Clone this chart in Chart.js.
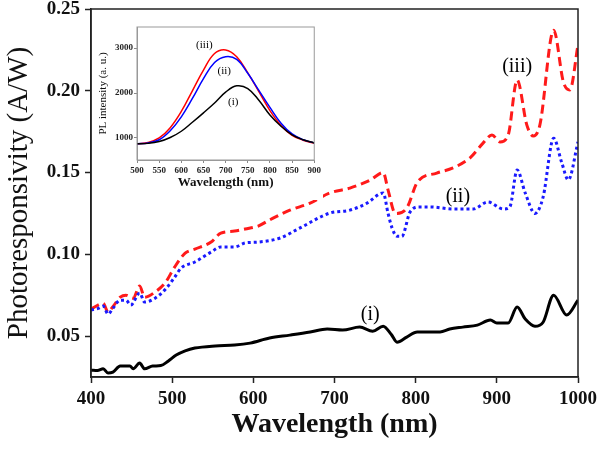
<!DOCTYPE html>
<html>
<head>
<meta charset="utf-8">
<script src="https://cdn.jsdelivr.net/npm/chart.js@4"></script>
<style>
body { margin: 0; background: #fff; }
#wrap { position: relative; width: 600px; height: 450px; }
#mainChart { position: absolute; left: 0; top: 0; }
#insetChart { position: absolute; left: 95px; top: 20px; background: #fff; }
</style>
</head>
<body>
<div id="wrap">
    <canvas id="mainChart" width="600" height="450"></canvas>
    <canvas id="insetChart" width="228" height="180"></canvas>
</div>
<script>
// main plot: photoresponsivity, three samples
const wlI = [400, 408, 415, 421, 427, 436, 448, 452, 460, 466, 476, 486, 495, 505, 516, 528, 553, 577, 596, 620,
    645, 670, 691, 710, 731, 747, 760, 770, 777, 789, 802, 830, 842, 858, 876, 892, 900, 914, 925, 935,
    947, 957, 970, 986, 1000];
const respI = [0.0292, 0.029, 0.030, 0.0274, 0.028, 0.0317, 0.0317, 0.030, 0.0335, 0.030, 0.0317, 0.032, 0.0347, 0.0384, 0.041, 0.0427, 0.044, 0.0445, 0.0457, 0.0488,
    0.0506, 0.0525, 0.0543, 0.0537, 0.0555, 0.053, 0.0561, 0.051, 0.0463, 0.0494, 0.0525, 0.0525, 0.0543, 0.0555, 0.0567, 0.0598, 0.058, 0.058, 0.0678, 0.0604,
    0.056, 0.0585, 0.075, 0.0629, 0.072];

const wlII = [400, 409, 415, 421, 427, 436, 443, 449, 460, 466, 479, 492, 503, 511, 528, 548, 560, 577, 590, 606,
    633, 657, 694, 719, 740, 760, 766, 771, 777, 783, 793, 805, 818, 846, 871, 889, 908, 916, 925, 935,
    947, 957, 970, 980, 988, 1000];
const respII = [0.066, 0.067, 0.0684, 0.0635, 0.067, 0.072, 0.072, 0.069, 0.0763, 0.0708, 0.0732, 0.0788, 0.086, 0.0916, 0.0953, 0.1014, 0.1045, 0.1045, 0.107, 0.1075,
    0.110, 0.116, 0.1252, 0.127, 0.1313, 0.1375, 0.125, 0.116, 0.111, 0.111, 0.1258, 0.129, 0.129, 0.1277, 0.1277, 0.132, 0.1277, 0.129, 0.1515, 0.1375,
    0.125, 0.135, 0.171, 0.156, 0.1455, 0.1687];

const wlIII = [400, 415, 421, 427, 436, 443, 452, 460, 466, 479, 492, 503, 516, 528, 548, 560, 577, 590, 606, 620,
    645, 670, 694, 719, 744, 760, 766, 775, 789, 802, 826, 846, 867, 883, 894, 904, 914, 925, 937, 945,
    953, 970, 982, 990, 1000];
const respIII = [0.0665, 0.070, 0.0647, 0.068, 0.0738, 0.075, 0.0732, 0.0806, 0.0738, 0.077, 0.083, 0.0922, 0.1007, 0.1032, 0.1075, 0.113, 0.1142, 0.1155, 0.1173, 0.121,
    0.127, 0.1313, 0.1375, 0.1405, 0.1454, 0.150, 0.1393, 0.125, 0.1283, 0.144, 0.1497, 0.1528, 0.159, 0.168, 0.173, 0.1687, 0.173, 0.2066, 0.179, 0.1723,
    0.179, 0.237, 0.2054, 0.2005, 0.228];

const xTicks = [400, 500, 600, 700, 800, 900, 1000];
const yTicks = [0.05, 0.10, 0.15, 0.20, 0.25];

// inset: PL spectra
const plWl = [500, 525, 550, 575, 600, 625, 650, 675, 700, 725, 750, 775, 800, 825, 850, 875, 900];
const plI = [870, 880, 920, 1010, 1150, 1350, 1560, 1780, 2020, 2160, 2100, 1840, 1510, 1260, 1070, 960, 890];
const plII = [870, 890, 960, 1160, 1470, 1880, 2320, 2680, 2810, 2750, 2440, 2060, 1680, 1330, 1090, 960, 890];
const plIII = [870, 900, 1000, 1230, 1590, 2050, 2510, 2880, 2960, 2810, 2450, 2030, 1610, 1280, 1060, 950, 880];

const plXTicks = [500, 550, 600, 650, 700, 750, 800, 850, 900];
const plYTicks = [1000, 2000, 3000];

const serif = '"Liberation Serif", "Times New Roman", serif';

function toPoints(xs, ys) {
    return xs.map((x, i) => ({ x: x, y: ys[i] }));
}

const boxPlugin = {
    id: 'box',
    afterDraw(chart, args, opts) {
        const { ctx, chartArea: a } = chart;
        ctx.save();
        ctx.strokeStyle = opts.color;
        ctx.lineWidth = opts.width;
        ctx.strokeRect(a.left, a.top, a.right - a.left, a.bottom - a.top);
        ctx.restore();
    }
};

const labelPlugin = {
    id: 'curveLabels',
    afterDatasetsDraw(chart, args, opts) {
        const { ctx, scales: { x, y } } = chart;
        ctx.save();
        ctx.font = opts.font;
        ctx.fillStyle = '#000';
        ctx.textAlign = 'center';
        ctx.textBaseline = 'middle';
        opts.labels.forEach(l => {
            ctx.fillText(l.text, x.getPixelForValue(l.x), y.getPixelForValue(l.y));
        });
        ctx.restore();
    }
};

new Chart(document.getElementById('mainChart'), {
    type: 'line',
    data: {
        datasets: [
            {
                label: '(i)',
                data: toPoints(wlI, respI),
                borderColor: '#000',
                borderWidth: 3,
                pointRadius: 0,
                cubicInterpolationMode: 'monotone'
            },
            {
                label: '(ii)',
                data: toPoints(wlII, respII),
                borderColor: '#1a1aff',
                borderWidth: 3,
                borderDash: [3, 3],
                pointRadius: 0,
                cubicInterpolationMode: 'monotone'
            },
            {
                label: '(iii)',
                data: toPoints(wlIII, respIII),
                borderColor: '#ff1a1a',
                borderWidth: 3,
                borderDash: [9, 5],
                pointRadius: 0,
                cubicInterpolationMode: 'monotone'
            }
        ]
    },
    options: {
        responsive: false,
        animation: false,
        layout: { padding: { top: 9, right: 22, left: 0, bottom: 0 } },
        scales: {
            x: {
                type: 'linear',
                min: 400,
                max: 1000,
                afterBuildTicks: s => { s.ticks = xTicks.map(v => ({ value: v })); },
                afterFit: s => {
                    s.height = 73;
                    s.paddingLeft = 0;
                    s.paddingRight = 0;
                },
                grid: { drawOnChartArea: false, tickLength: 6, tickWidth: 1.5, tickColor: '#222' },
                border: { display: true, color: '#222', width: 1.5 },
                ticks: {
                    color: '#111',
                    maxRotation: 0,
                    padding: 5,
                    font: { family: serif, size: 19, weight: 'bold' },
                    callback: v => String(v)
                },
                title: {
                    display: true,
                    text: 'Wavelength (nm)',
                    color: '#111',
                    font: { family: serif, size: 28, weight: 'bold' },
                    padding: { top: 0, bottom: 8 }
                }
            },
            y: {
                min: 0.025,
                max: 0.25,
                afterBuildTicks: s => { s.ticks = yTicks.map(v => ({ value: v })); },
                afterFit: s => {
                    s.width = 91;
                    s.paddingTop = 0;
                    s.paddingBottom = 0;
                },
                grid: { drawOnChartArea: false, tickLength: 6, tickWidth: 1.5, tickColor: '#222' },
                border: { display: true, color: '#222', width: 1.5 },
                ticks: {
                    color: '#111',
                    padding: 5,
                    font: { family: serif, size: 19, weight: 'bold', lineHeight: 0.9 },
                    callback: v => v.toFixed(2)
                },
                title: {
                    display: true,
                    text: 'Photoresponsivity (A/W)',
                    color: '#111',
                    font: { family: serif, size: 29 },
                    padding: { top: 2, bottom: 0 }
                }
            }
        },
        plugins: {
            legend: { display: false },
            tooltip: { enabled: false },
            box: { color: '#222', width: 1.5 },
            curveLabels: {
                font: '20px ' + serif,
                labels: [
                    { text: '(i)', x: 744, y: 0.0629 },
                    { text: '(ii)', x: 852, y: 0.135 },
                    { text: '(iii)', x: 925, y: 0.2145 }
                ]
            }
        }
    },
    plugins: [boxPlugin, labelPlugin]
});

new Chart(document.getElementById('insetChart'), {
    type: 'line',
    data: {
        datasets: [
            { label: '(i)', data: toPoints(plWl, plI), borderColor: '#000', borderWidth: 1.5, pointRadius: 0, tension: 0.4 },
            { label: '(ii)', data: toPoints(plWl, plII), borderColor: '#0000ff', borderWidth: 1.5, pointRadius: 0, tension: 0.4 },
            { label: '(iii)', data: toPoints(plWl, plIII), borderColor: '#ff0000', borderWidth: 1.5, pointRadius: 0, tension: 0.4 }
        ]
    },
    options: {
        responsive: false,
        animation: false,
        layout: { padding: { top: 7, right: 7, left: 0, bottom: 0 } },
        scales: {
            x: {
                type: 'linear',
                min: 500,
                max: 900,
                afterBuildTicks: s => { s.ticks = plXTicks.map(v => ({ value: v })); },
                afterFit: s => { s.height = 40; },
                grid: { drawOnChartArea: false, tickLength: 3, tickColor: '#888' },
                border: { display: true, color: '#999', width: 1 },
                ticks: {
                    color: '#222',
                    maxRotation: 0,
                    padding: 2,
                    font: { family: serif, size: 9, weight: 'bold' },
                    callback: v => String(v)
                },
                title: {
                    display: true,
                    text: 'Wavelength (nm)',
                    color: '#111',
                    font: { family: serif, size: 13, weight: 'bold' },
                    padding: { top: 0, bottom: 10 }
                }
            },
            y: {
                min: 510,
                max: 3470,
                afterBuildTicks: s => { s.ticks = plYTicks.map(v => ({ value: v })); },
                afterFit: s => { s.width = 42; },
                grid: { drawOnChartArea: false, tickLength: 3, tickColor: '#888' },
                border: { display: true, color: '#999', width: 1 },
                ticks: {
                    color: '#222',
                    padding: 1,
                    font: { family: serif, size: 9, weight: 'bold', lineHeight: 1 },
                    callback: v => String(v)
                },
                title: {
                    display: true,
                    text: 'PL intensity (a. u.)',
                    color: '#111',
                    font: { family: serif, size: 11 },
                    padding: { top: 2, bottom: 0 }
                }
            }
        },
        plugins: {
            legend: { display: false },
            tooltip: { enabled: false },
            box: { color: '#999', width: 1 },
            curveLabels: {
                font: '11px ' + serif,
                labels: [
                    { text: '(iii)', x: 652, y: 3067 },
                    { text: '(ii)', x: 697, y: 2490 },
                    { text: '(i)', x: 717, y: 1800 }
                ]
            }
        }
    },
    plugins: [boxPlugin, labelPlugin]
});
</script>
</body>
</html>
